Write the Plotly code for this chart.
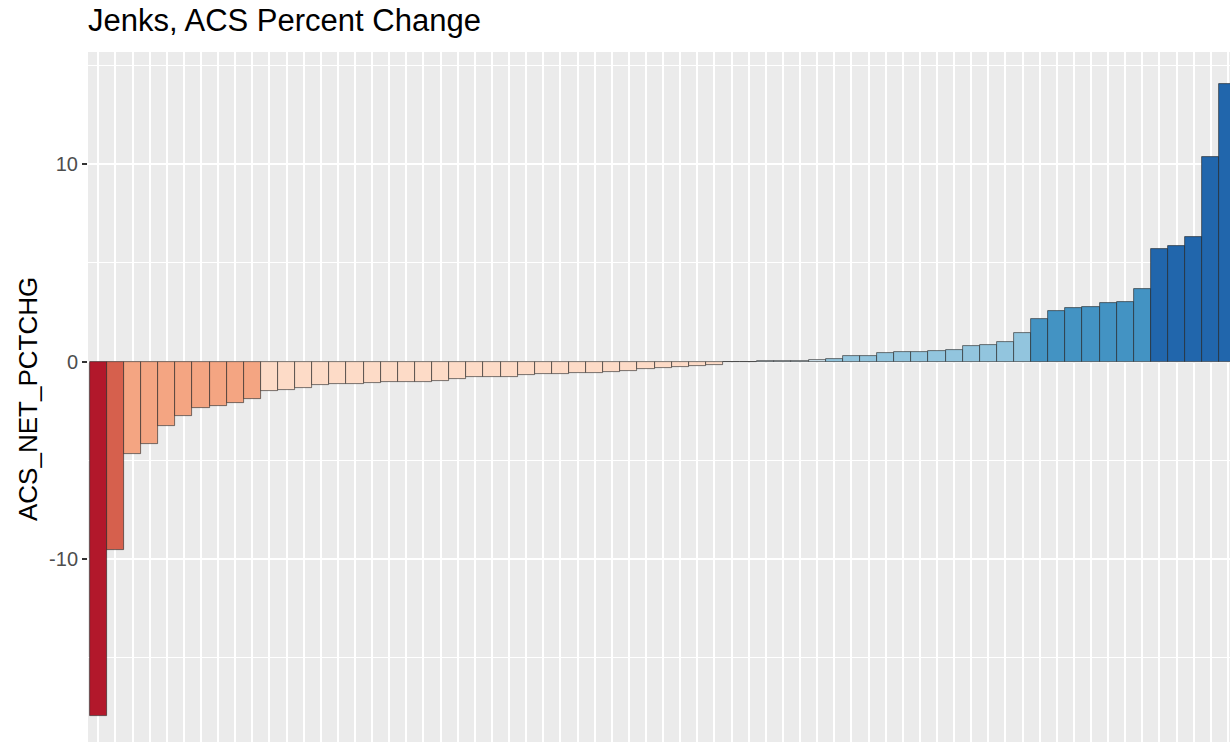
import plotly.graph_objects as go

# Bar values (sorted ascending)
values = [
    -17.98, -9.56, -4.69, -4.20, -3.27, -2.78, -2.37, -2.24, -2.10, -1.90,
    -1.48, -1.46, -1.36, -1.19, -1.13, -1.13, -1.09, -1.05, -1.04, -1.04,
    -0.97, -0.90, -0.79, -0.79, -0.79, -0.67, -0.63, -0.63, -0.60, -0.58,
    -0.55, -0.48, -0.37, -0.33, -0.27, -0.21, -0.17, -0.04, -0.03, 0.01,
    0.03, 0.04, 0.07, 0.13, 0.26, 0.28, 0.44, 0.47, 0.48, 0.51,
    0.56, 0.77, 0.82, 0.97, 1.43, 2.17, 2.58, 2.73, 2.76, 2.97,
    3.02, 3.66, 5.69, 5.84, 6.30, 10.39, 14.07,
]
categories = list(range(1, len(values) + 1))

# Jenks classes: number of bars in each class, and their fill colours (RdBu 8)
class_counts = [1, 1, 8, 29, 4, 12, 7, 5]
class_colors = ["#B2182B", "#D6604D", "#F4A582", "#FDDBC7",
                "#D1E5F0", "#92C5DE", "#4393C3", "#2166AC"]

y_ticks = [-10, 0, 10]
y_minor = [-15, -5, 5, 15]

bar_colors = []
for n, c in zip(class_counts, class_colors):
    bar_colors += [c] * n

W, H = 1230, 742
L, T = 88, 52

fig = go.Figure(go.Bar(
    x=categories, y=values, width=1,
    marker=dict(color=bar_colors, line=dict(color="rgba(30,30,30,0.75)", width=0.8)),
    showlegend=False, hoverinfo="x+y",
))

fig.update_layout(
    width=W, height=H,
    margin=dict(l=L, r=0, t=T, b=0, pad=0),
    paper_bgcolor="white", plot_bgcolor="#EBEBEB",
    font=dict(family="Liberation Sans, Arial, sans-serif"),
    bargap=0,
    title=dict(text="Jenks, ACS Percent Change", xref="paper", x=0, xanchor="left",
               yref="container", y=1 - 20 / H, yanchor="middle",
               font=dict(size=31, color="black")),
    xaxis=dict(range=[0.4, 67.12], tickvals=categories, showticklabels=False,
               ticks="", showgrid=True, gridcolor="white", gridwidth=2,
               zeroline=False, showline=False),
    yaxis=dict(range=[-19.3, 15.7], tickvals=y_ticks, ticktext=[str(v) for v in y_ticks],
               ticks="outside", ticklen=5, tickwidth=1.5, tickcolor="#333333",
               ticklabelstandoff=0,
               tickfont=dict(size=20, color="#4D4D4D"),
               showgrid=True, gridcolor="white", gridwidth=2,
               minor=dict(tickvals=y_minor, showgrid=True, gridcolor="white",
                          gridwidth=1, ticks=""),
               zeroline=False, showline=False),
    annotations=[dict(text="ACS_NET_PCTCHG", textangle=-90, xref="paper", yref="paper",
                      x=(28 - L) / (W - L), y=(H - 399) / (H - T),
                      xanchor="center", yanchor="middle", showarrow=False,
                      font=dict(size=26, color="black"))],
)

fig.write_html("out.html", config={"displayModeBar": False},
               post_script="document.body.style.margin='0';")
